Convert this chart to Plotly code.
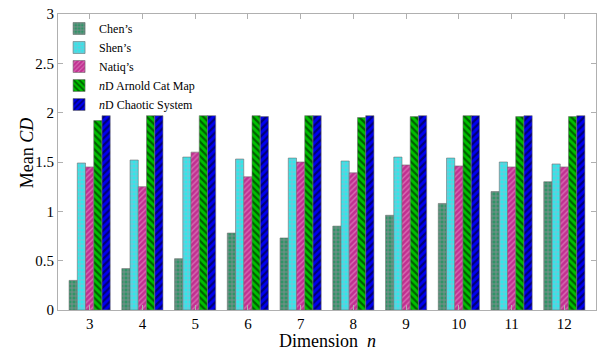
import plotly.graph_objects as go

dims = [3, 4, 5, 6, 7, 8, 9, 10, 11, 12]
chen = [0.30, 0.42, 0.52, 0.78, 0.73, 0.85, 0.96, 1.08, 1.20, 1.30]
shen = [1.49, 1.52, 1.55, 1.53, 1.54, 1.51, 1.55, 1.54, 1.50, 1.48]
natiq = [1.45, 1.25, 1.60, 1.35, 1.50, 1.39, 1.47, 1.46, 1.45, 1.45]
arnold = [1.92, 1.97, 1.97, 1.97, 1.97, 1.95, 1.96, 1.97, 1.96, 1.96]
chaotic = [1.97, 1.97, 1.97, 1.96, 1.97, 1.97, 1.97, 1.97, 1.97, 1.97]

names = ["Chen’s", "Shen’s", "Natiq’s", "<i>n</i>D Arnold Cat Map", "<i>n</i>D Chaotic System"]
series = [chen, shen, natiq, arnold, chaotic]
styles = [
    dict(bg="#2f9466", fg="#d088b8", shape="+", size=4, sol=0.4),
    dict(bg="#30e8e8", fg="#d890c0", shape="+", size=4, sol=0.35),
    dict(bg="#c03090", fg="#f0a8d8", shape="/", size=4, sol=0.35),
    dict(bg="#00c000", fg="#000000", shape="\\", size=5, sol=0.45),
    dict(bg="#0000f0", fg="#000000", shape="/", size=5, sol=0.45),
]

fig = go.Figure()
for nm, vals, st in zip(names, series, styles):
    fig.add_trace(go.Bar(
        x=dims, y=vals, name=nm,
        marker=dict(color=st["bg"], line=dict(color="#707070", width=0.6),
                    pattern=dict(shape=st["shape"], fgcolor=st["fg"], bgcolor=st["bg"],
                                 size=st["size"], solidity=st["sol"], fillmode="overlay")),
    ))

axis_common = dict(showline=True, linecolor="#b0b0b0", linewidth=1, mirror="ticks",
                   ticks="inside", ticklen=5, tickcolor="#b0b0b0", showgrid=False,
                   zeroline=False, automargin=False, ticklabeloverflow="allow",
                   tickfont=dict(family="Liberation Serif", size=15, color="black"))

# page body has an 8px margin, so the figure is sized to 597x349
fig.update_layout(
    width=597, height=349,
    margin=dict(l=50, r=9, t=6, b=47),
    plot_bgcolor="white", paper_bgcolor="white",
    barmode="group", bargap=0.22, bargroupgap=0,
    font=dict(family="Liberation Serif", color="black"),
    xaxis=dict(range=[2.4, 12.6], tickmode="array", tickvals=dims,
               ticktext=[str(d) for d in dims], **axis_common),
    yaxis=dict(range=[0, 3], tickvals=[0, 0.5, 1, 1.5, 2, 2.5, 3],
               ticktext=["0", "0.5", "1", "1.5", "2", "2.5", "3"], **axis_common),
    legend=dict(x=0.002, y=1.0, xanchor="left", yanchor="top",
                bgcolor="rgba(255,255,255,0)", font=dict(size=12, family="Liberation Serif"),
                itemwidth=30, tracegroupgap=0),
    showlegend=True,
    annotations=[
        dict(text="Dimension  <i>n</i>", xref="paper", yref="paper", x=0.5, y=-0.105,
             xanchor="center", yanchor="middle", showarrow=False,
             font=dict(size=18, family="Liberation Serif", color="black")),
        dict(text="Mean <i>CD</i>", xref="paper", yref="paper", x=-0.0576, y=0.53,
             xanchor="center", yanchor="middle", textangle=-90, showarrow=False,
             font=dict(size=18, family="Liberation Serif", color="black")),
    ],
)

fig.write_html("out.html")
